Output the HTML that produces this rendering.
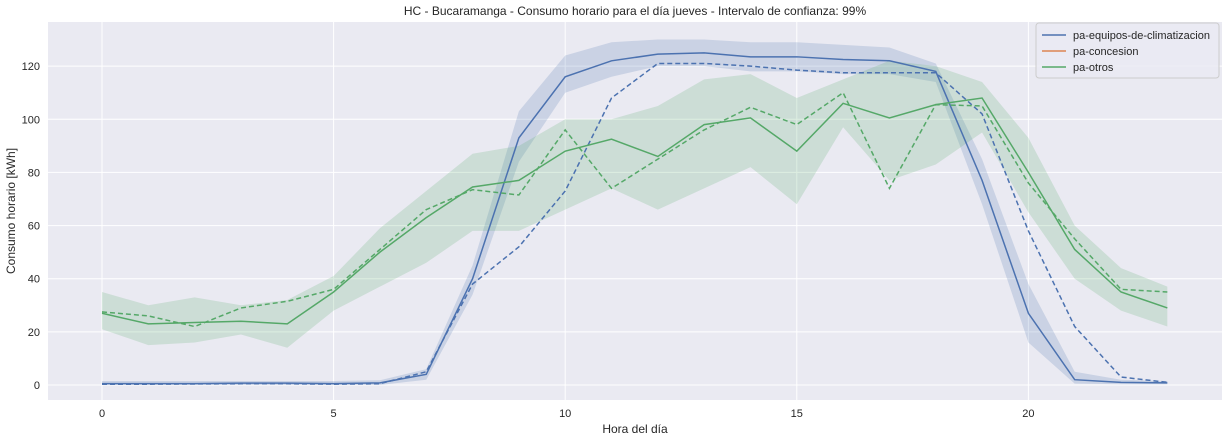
<!DOCTYPE html>
<html><head><meta charset="utf-8"><style>
body{margin:0;background:#fff;font-family:"Liberation Sans",sans-serif;}
svg text{font-family:"Liberation Sans",sans-serif;fill:#262626;}
</style></head><body>
<svg id="chart" width="1228" height="442"></svg>
<script>
const hours=[0,1,2,3,4,5,6,7,8,9,10,11,12,13,14,15,16,17,18,19,20,21,22,23];
const blueMean=[0.5,0.5,0.5,0.7,0.7,0.5,0.8,4,40,93,116,122,124.5,125,123.5,123.5,122.5,122,118,77,27,2,1,0.8];
const blueDash=[0.3,0.3,0.4,0.5,0.5,0.3,0.5,5,38,52,73,108,121,121,120,118.5,117.5,117.5,117.5,102,58,22,3,1];
const blueUpper=[1.5,1.5,1.5,1.5,1.5,1.5,1.8,6,45,103,124,129,130,130,129,129,128,127,121,85,38,5,2,1.5];
const blueLower=[0,0,0,0,0,0,0,2,34,84,110,116,120,120,118,118,117,117,114,68,16,0.5,0.3,0.3];
const greenMean=[27,23,23.5,24,23,35,50,63,74.5,77,88,92.5,86,98,100.5,88,106,100.5,105.5,108,80,51,35,29];
const greenDash=[27.5,26,22,29,31.5,36,51,66,73.5,71.5,96,74,85,96,104.5,98,110,74,105.5,105,76,55,36,35];
const greenUpper=[35,30,33,30,32,41,59,73,87,90,100,100,105,115,117,108,115,122,120,114,93,60,44,37];
const greenLower=[21,15,16,19,14,28,37,46,58,58,66,74,66,74,82,68,97,77,83,95,65,40,28,22];
const xTicks=[0,5,10,15,20];
const yTicks=[0,20,40,60,80,100,120];
const legendLabels=["pa-equipos-de-climatizacion","pa-concesion","pa-otros"];

const L=48,R=1222,T=22,B=400;
const xmin=-1.166,xmax=24.18,ymin=-5.64,ymax=136.6;
const X=v=>L+(v-xmin)/(xmax-xmin)*(R-L);
const Y=v=>B-(v-ymin)/(ymax-ymin)*(B-T);
const svg=document.getElementById('chart');
const NS='http://www.w3.org/2000/svg';
function mk(tag,attrs,parent){const e=document.createElementNS(NS,tag);for(const k in attrs)e.setAttribute(k,attrs[k]);(parent||svg).appendChild(e);return e;}

const bg=mk('rect',{x:L,y:T,width:R-L,height:B-T,fill:'#eaeaf2'});


xTicks.forEach(t=>{
  const g=mk('line',{x1:X(t),x2:X(t),y1:T,y2:B,stroke:'#fff','stroke-width':1});
  
  
  const tx=mk('text',{x:X(t),y:B+17,'text-anchor':'middle','font-size':11});
  tx.textContent=t;
  
  
});
yTicks.forEach(t=>{
  const g=mk('line',{x1:L,x2:R,y1:Y(t),y2:Y(t),stroke:'#fff','stroke-width':1});
  
  
  const tx=mk('text',{x:L-8,y:Y(t)+4,'text-anchor':'end','font-size':11});
  tx.textContent=t;
  
  
});
function band(up,lo,color,name){
  let d='M'+hours.map((h,i)=>X(h)+','+Y(up[i])).join('L');
  for(let i=hours.length-1;i>=0;i--)d+='L'+X(hours[i])+','+Y(lo[i]);
  const p=mk('path',{d:d+'Z',fill:color,'fill-opacity':0.2,stroke:'none'});
  
  
}
function line(vals,color,dash,name){
  const p=mk('polyline',{points:hours.map((h,i)=>X(h)+','+Y(vals[i])).join(' '),fill:'none',stroke:color,'stroke-width':1.5,'stroke-dasharray':dash||'none'});
  
  
}
band(blueUpper,blueLower,'#4c72b0','climatizacion-ci-band');
band(greenUpper,greenLower,'#55a868','otros-ci-band');
line(blueMean,'#4c72b0',null,'climatizacion-line');
line(blueDash,'#4c72b0','5,3','climatizacion-dashed-line');
line(greenMean,'#55a868',null,'otros-line');
line(greenDash,'#55a868','5,3','otros-dashed-line');

const title=mk('text',{x:(L+R)/2,y:15,'text-anchor':'middle','font-size':12});
title.textContent='HC - Bucaramanga - Consumo horario para el día jueves - Intervalo de confianza: 99%';


const xt=mk('text',{x:(L+R)/2,y:433,'text-anchor':'middle','font-size':12});
xt.textContent='Hora del día';


const yt=mk('text',{x:0,y:0,'text-anchor':'middle','font-size':12,transform:'translate(15,'+((T+B)/2)+') rotate(-90)'});
yt.textContent='Consumo horario [kWh]';



const lg=mk('rect',{x:1036,y:23,width:183,height:55,fill:'#eaeaf2','fill-opacity':0.8,stroke:'#ccc',rx:3});


const colors=['#4c72b0','#dd8452','#55a868'];
legendLabels.forEach((lab,i)=>{
  const y=35+i*16;
  const ln=mk('line',{x1:1042,x2:1066,y1:y,y2:y,stroke:colors[i],'stroke-width':1.5});
  
  
  const t=mk('text',{x:1073,y:y+4,'font-size':11});
  t.textContent=lab;
  
  
});
</script>
</body></html>
